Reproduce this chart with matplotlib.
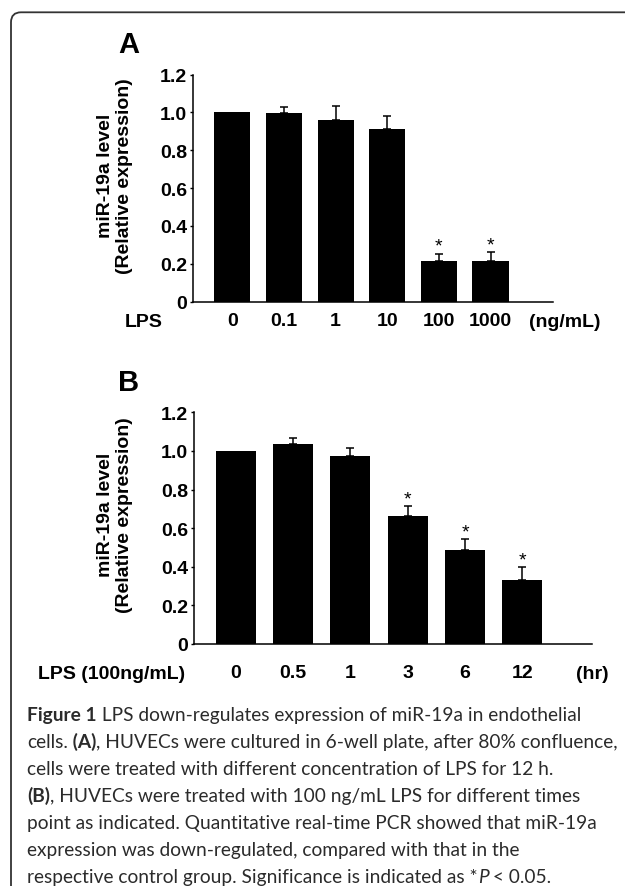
import matplotlib
matplotlib.use('Agg')
import matplotlib.pyplot as plt
from matplotlib.patches import FancyBboxPatch
from matplotlib.text import Annotation
from matplotlib.transforms import IdentityTransform

plt.rcParams['font.family'] = ['Liberation Sans', 'DejaVu Sans']

# panel A: LPS concentration (ng/mL), 12 h
dose_labels = ['0', '0.1', '1', '10', '100', '1000']
dose_mean = [1.00, 0.996, 0.961, 0.914, 0.213, 0.213]
dose_err = [0.0, 0.030, 0.072, 0.065, 0.041, 0.049]
dose_sig = [False, False, False, False, True, True]

# panel B: 100 ng/mL LPS, time (hr)
time_labels = ['0', '0.5', '1', '3', '6', '12']
time_mean = [1.00, 1.034, 0.974, 0.664, 0.486, 0.334]
time_err = [0.0, 0.035, 0.043, 0.050, 0.057, 0.066]
time_sig = [False, False, False, True, True, True]

yticks = [0, 0.2, 0.4, 0.6, 0.8, 1.0, 1.2]
ytick_labels = ['0', '0.2', '0.4', '0.6', '0.8', '1.0', '1.2']

W, H = 625, 887
fig = plt.figure(figsize=(W / 100, H / 100), dpi=100)


def fx(x):
    return x / W


def fy(y):
    return 1 - y / H


def draw_panel(rect, labels, means, errs, sig, xlim, pad):
    ax = fig.add_axes(rect)
    x = list(range(len(labels)))
    ax.bar(x, means, width=0.7, color='black', linewidth=0)
    ex = [i for i in x if errs[i] > 0]
    ax.errorbar(ex, [means[i] for i in ex],
                yerr=[[0] * len(ex), [errs[i] for i in ex]],
                fmt='none', ecolor='black', elinewidth=1.1,
                capsize=3, capthick=1.1)
    for i in x:
        if sig[i]:
            ax.annotate('*', xy=(i, means[i] + errs[i]), xytext=(0, 2),
                        textcoords='offset points', ha='center',
                        va='baseline', fontsize=14)
    ax.set_xlim(xlim)
    ax.set_ylim(0, 1.2)
    ax.set_yticks(yticks, ytick_labels)
    ax.set_xticks(x, labels)
    for s in ['top', 'right']:
        ax.spines[s].set_visible(False)
    for s in ['left', 'bottom']:
        ax.spines[s].set_linewidth(1.1)
    ax.tick_params(axis='x', length=0, pad=pad)
    ax.tick_params(axis='y', direction='out', length=2.5, width=1, pad=2)
    for t in ax.get_xticklabels() + ax.get_yticklabels():
        t.set_fontsize(14)
        t.set_fontweight('bold')
    return ax


# panel A
draw_panel([fx(193.3), fy(302.7), fx(553.3) - fx(193.3), (302.7 - 75.5) / H],
           dose_labels, dose_mean, dose_err, dose_sig, (-0.755, 6.215), 7.5)
fig.text(fx(129), fy(45), 'A', ha='center', va='center', fontsize=21, fontweight='bold')
fig.text(fx(115), fy(176), 'miR-19a level\n(Relative expression)', rotation=90,
         ha='center', va='center', multialignment='center', fontsize=14, fontweight='bold')
fig.text(fx(143.5), fy(327), 'LPS', ha='center', va='baseline', fontsize=14, fontweight='bold')
fig.text(fx(565), fy(327), '(ng/mL)', ha='center', va='baseline', fontsize=14, fontweight='bold')

# panel B
draw_panel([fx(194.3), fy(645), fx(592.3) - fx(194.3), (645 - 413.3) / H],
           time_labels, time_mean, time_err, time_sig, (-0.724, 6.222), 14.4)
fig.text(fx(129), fy(383.5), 'B', ha='center', va='center', fontsize=21, fontweight='bold')
fig.text(fx(115), fy(515), 'miR-19a level\n(Relative expression)', rotation=90,
         ha='center', va='center', multialignment='center', fontsize=14, fontweight='bold')
fig.text(fx(111.7), fy(679), 'LPS (100ng/mL)', ha='center', va='baseline', fontsize=14, fontweight='bold')
fig.text(fx(592.5), fy(679), '(hr)', ha='center', va='baseline', fontsize=14, fontweight='bold')

# frame with rounded top-left corner
frame = FancyBboxPatch((11, -40), 700, H - 13.3 + 40,
                       boxstyle='round,pad=0,rounding_size=10',
                       transform=IdentityTransform(), fill=False,
                       edgecolor='#333333', linewidth=1.3)
fig.add_artist(frame)

# caption
cap_size = 13.8
cap_color = '#2b2b2b'
caption = [
    [('Figure 1', 'bold'), (' LPS down-regulates expression of miR-19a in endothelial', 'normal')],
    [('cells.', 'normal'), (' (A)', 'bold'), (', HUVECs were cultured in 6-well plate, after 80% confluence,', 'normal')],
    [('cells were treated with different concentration of LPS for 12 h.', 'normal')],
    [('(B)', 'bold'), (', HUVECs were treated with 100 ng/mL LPS for different times', 'normal')],
    [('point as indicated. Quantitative real-time PCR showed that miR-19a', 'normal')],
    [('expression was down-regulated, compared with that in the', 'normal')],
    [('respective control group. Significance is indicated as *', 'normal'), ('P', 'italic'), (' < 0.05.', 'normal')],
]

for n, parts in enumerate(caption):
    y = 721 + 27 * n
    prev = None
    for txt, style in parts:
        kw = dict(fontsize=cap_size, family='Lato', color=cap_color, va='baseline', ha='left',
                  fontweight='bold' if style == 'bold' else 'normal',
                  fontstyle='italic' if style == 'italic' else 'normal')
        if prev is None:
            prev = fig.text(fx(27), fy(y), txt, **kw)
        else:
            ann = Annotation(txt, xy=(1, fy(y)), xycoords=(prev, 'figure fraction'), **kw)
            fig.add_artist(ann)
            prev = ann

fig.savefig('out.png', dpi=100)
